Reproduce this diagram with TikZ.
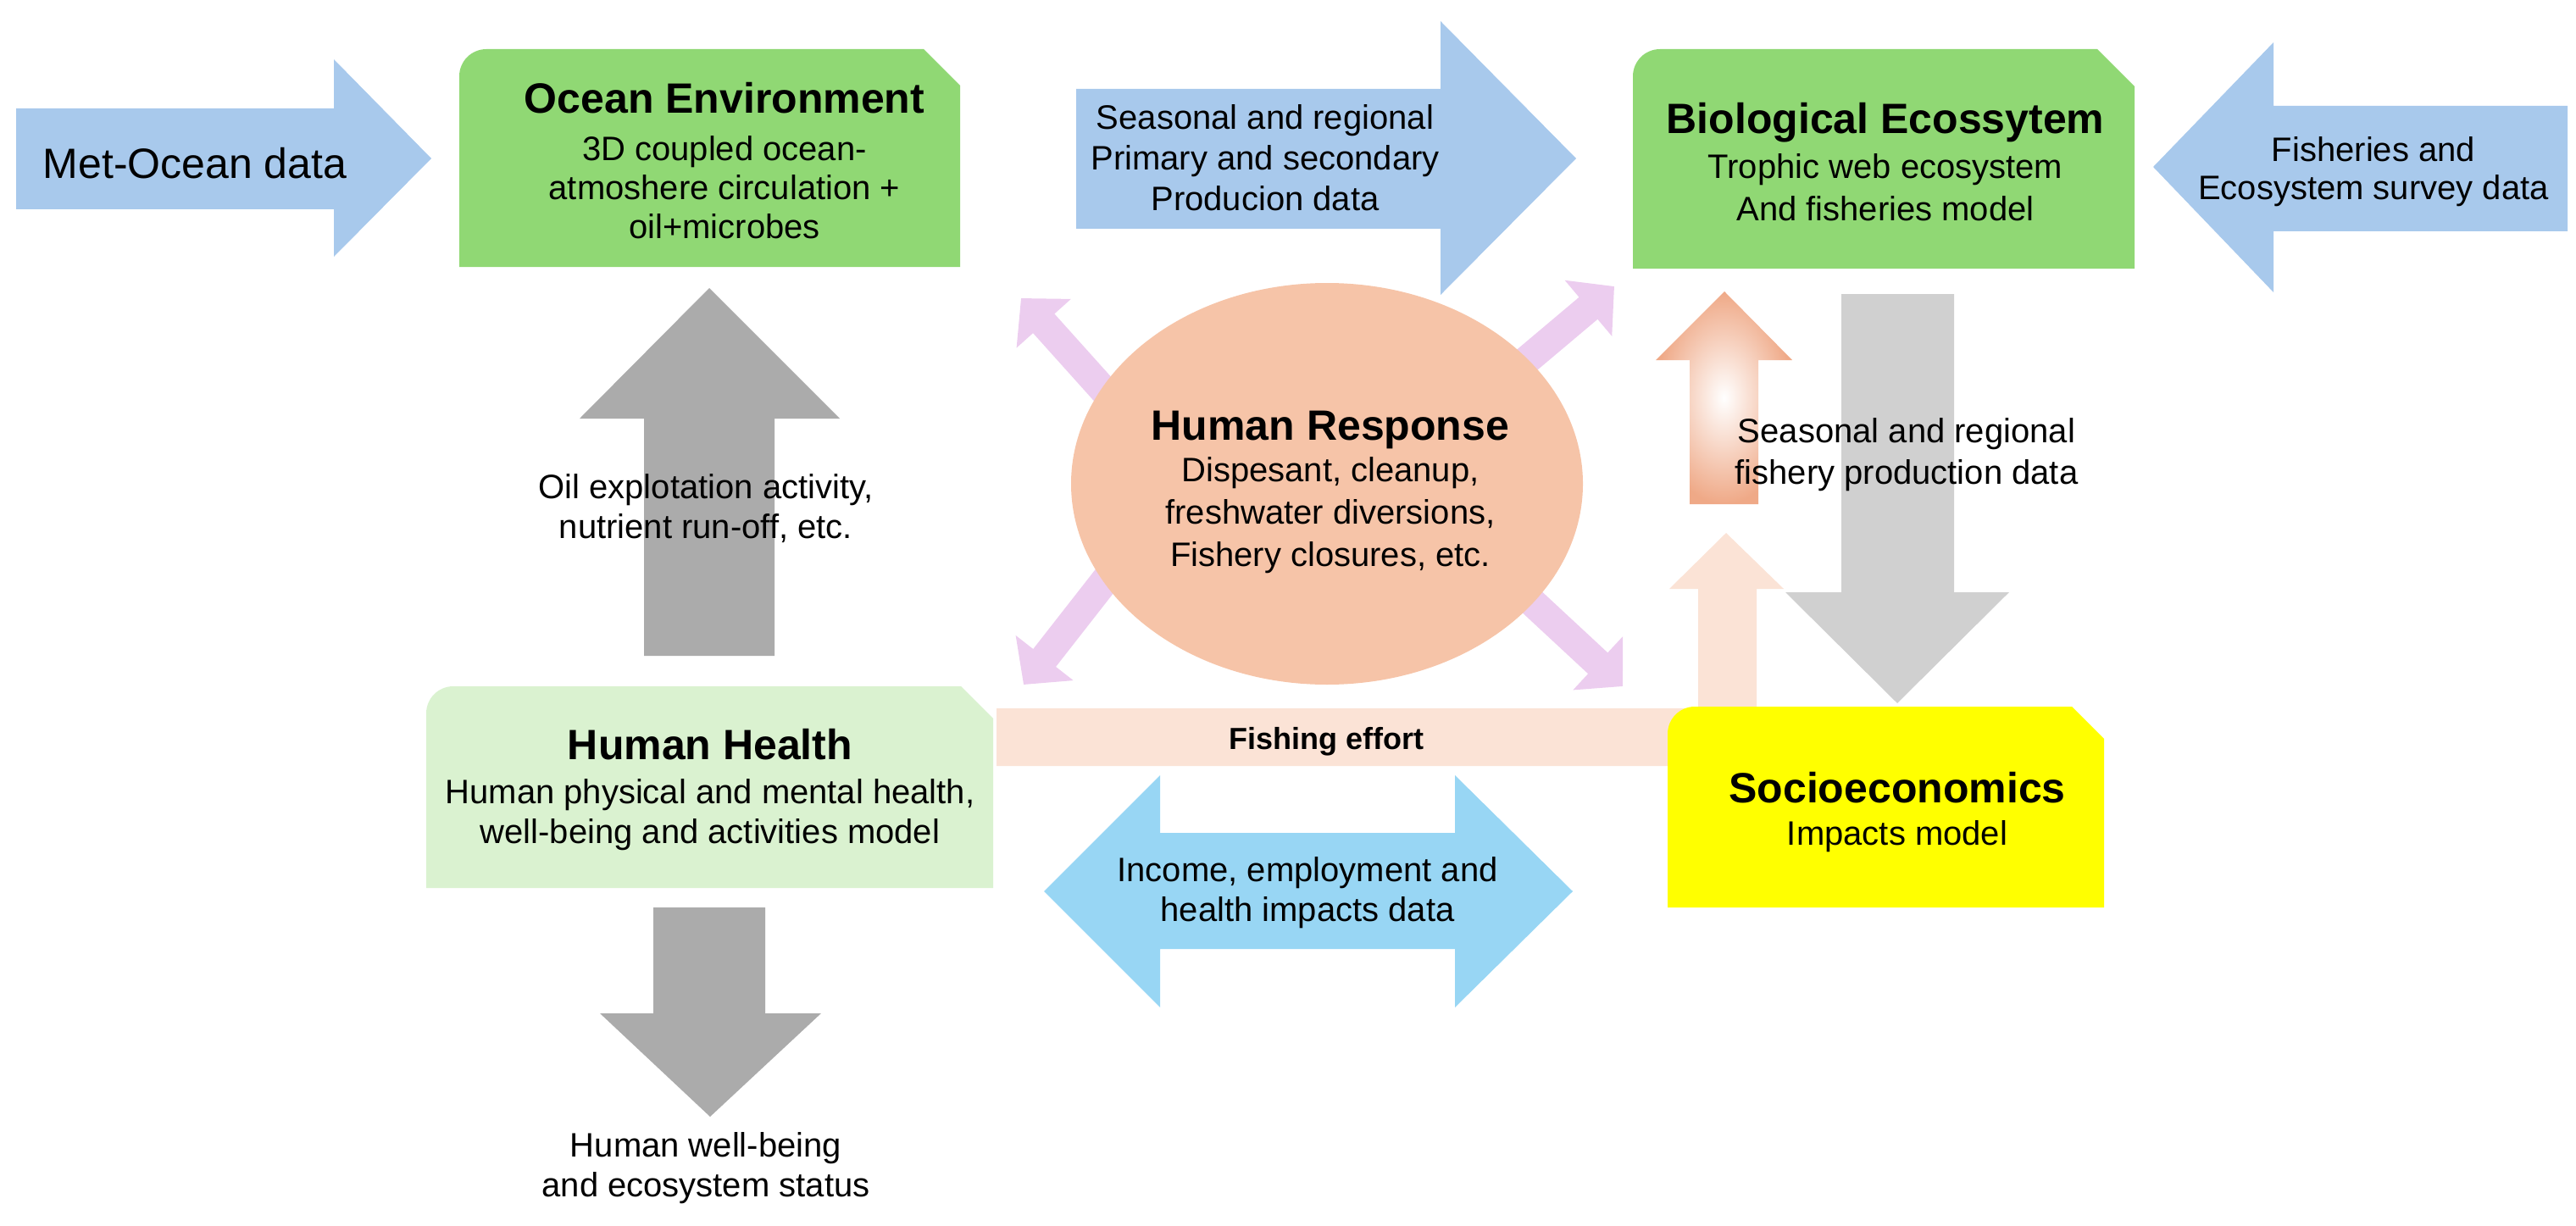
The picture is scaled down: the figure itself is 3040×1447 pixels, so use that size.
\documentclass[tikz,border=0pt]{standalone}
\usepackage{fontspec}
\setmainfont{Liberation Sans}
\usetikzlibrary{arrows.meta}
\definecolor{blueA}{HTML}{A8C9EC}
\definecolor{blueB}{HTML}{98D6F4}
\definecolor{greenA}{HTML}{90D874}
\definecolor{greenB}{HTML}{DAF2D0}
\definecolor{grayA}{HTML}{ABABAB}
\definecolor{grayB}{HTML}{D0D0D0}
\definecolor{peachA}{HTML}{F6C4A8}
\definecolor{peachB}{HTML}{FBE3D6}
\definecolor{peachC}{HTML}{EFA987}
\definecolor{pinkA}{HTML}{ECCDEF}
\definecolor{yellowA}{HTML}{FFFF00}
\newcommand\snipbox[6]{%
  \fill[#1] (#2,{(#3+#5)/2}) [rounded corners=32pt] -- (#2,#3) -- ({#2+80},#3) [sharp corners]
    -- ({#4-#6},#3) -- (#4,{#3+#6}) -- (#4,#5) -- (#2,#5) -- cycle;}
\begin{document}
\begin{tikzpicture}[x=1pt,y=-1pt,
  txt/.style={inner sep=0pt, align=center, text=black, font=\fontsize{40}{48}\selectfont},
  ttl/.style={inner sep=0pt, align=center, text=black, font=\bfseries\fontsize{50}{56}\selectfont},
  pinkarr/.style={draw=pinkA, line width=34pt, -{Triangle[length=40pt,width=84pt]}}]
\useasboundingbox (0,0) rectangle (3040,1447);
% pink arrows behind the ellipse
\coordinate (ulT) at (1372,538); \coordinate (ulP) at (1205,352);
\coordinate (llT) at (1362,611); \coordinate (llP) at (1208,808);
\coordinate (urT) at (1714,499); \coordinate (urP) at (1905,338);
\coordinate (lrT) at (1732,640); \coordinate (lrP) at (1915,810);
\draw[pinkarr] (ulT) -- (ulP);
\draw[pinkarr] (llT) -- (llP);
\draw[pinkarr] (urT) -- (urP);
\draw[pinkarr] (lrT) -- (lrP);
% ellipse
\fill[peachA] (1566,571) ellipse [x radius=302, y radius=237];
% blue input arrows
\fill[blueA] (19,128) -- (394,128) -- (394,70) -- (509,187) -- (394,303) -- (394,247) -- (19,247) -- cycle;
\fill[blueA] (1270,105) -- (1700,105) -- (1700,25) -- (1860,187) -- (1700,348) -- (1700,270) -- (1270,270) -- cycle;
\fill[blueA] (3030,125) -- (2683,125) -- (2683,50) -- (2541,197) -- (2683,345) -- (2683,273) -- (3030,273) -- cycle;
% green boxes
\snipbox{greenA}{542}{58}{1133}{315}{43}
\snipbox{greenA}{1927}{58}{2519}{317}{44}
% gray arrows
\fill[grayA] (760,774) -- (760,494) -- (684,494) -- (837,340) -- (991,494) -- (914,494) -- (914,774) -- cycle;
\snipbox{greenB}{503}{810}{1172}{1048}{38}
\fill[grayA] (771,1071) -- (903,1071) -- (903,1196) -- (969,1196) -- (838,1318) -- (708,1196) -- (771,1196) -- cycle;
% peach up arrow with glow
\shade[inner color=white, outer color=peachC] (1994,595) -- (1994,425) -- (1954,425) -- (2035,344) -- (2115,425) -- (2075,425) -- (2075,595) -- cycle;
% light gray down arrow
\fill[grayB] (2173,347) -- (2306,347) -- (2306,699) -- (2371,699) -- (2239,830) -- (2107,699) -- (2173,699) -- cycle;
% fishing effort bent arrow
\fill[peachB] (1176,836) -- (2004,836) -- (2004,695) -- (1970,695) -- (2037,629) -- (2105,695) -- (2073,695) -- (2073,904) -- (1176,904) -- cycle;
% socioeconomics box
\snipbox{yellowA}{1968}{834}{2483}{1071}{38}
% income double arrow
\fill[blueB] (1232,1052) -- (1369,915) -- (1369,983) -- (1717,983) -- (1717,915) -- (1856,1052) -- (1717,1189) -- (1717,1120) -- (1369,1120) -- (1369,1189) -- cycle;
% texts
\node[txt, font=\fontsize{50}{56}\selectfont] (metocean) at (230,193) {Met-Ocean data};
\node[ttl] (oceanT) at (855,116) {Ocean Environment};
\node[txt, font=\fontsize{40}{46}\selectfont] (oceanB) at (855,221) {3D coupled ocean-\\atmoshere circulation +\\oil+microbes};
\node[txt] (seasonTop) at (1493,186) {Seasonal and regional\\Primary and secondary\\Producion data};
\node[ttl] (bioT) at (2225,145) {Biological Ecossytem};
\node[txt, font=\fontsize{40}{50}\selectfont] (bioB) at (2225,221) {Trophic web ecosystem\\And fisheries model};
\node[txt, font=\fontsize{40}{45}\selectfont] (fisheries) at (2801,203) {Fisheries and\\Ecosystem survey data};
\node[txt, font=\fontsize{40}{47}\selectfont] (oil) at (833,600) {Oil explotation activity,\\nutrient run-off, etc.};
\node[ttl] (hrT) at (1570,507) {Human Response};
\node[txt, font=\fontsize{40}{50}\selectfont] (hrB) at (1570,608) {Dispesant, cleanup,\\freshwater diversions,\\Fishery closures, etc.};
\node[txt, font=\fontsize{40}{49}\selectfont] (fishprod) at (2250,537) {Seasonal and regional\\fishery production data};
\node[ttl] (hhT) at (838,879) {Human Health};
\node[txt, font=\fontsize{40}{47}\selectfont] (hhB) at (838,962) {Human physical and mental health,\\well-being and activities model};
\node[txt, font=\bfseries\fontsize{36}{40}\selectfont] (effort) at (1565,875) {Fishing effort};
\node[ttl] (socT) at (2239,930) {Socioeconomics};
\node[txt] (socB) at (2239,987) {Impacts model};
\node[txt, font=\fontsize{40}{47}\selectfont] (income) at (1543,1054) {Income, employment and\\health impacts data};
\node[txt, font=\fontsize{40}{47}\selectfont] (wellbeing) at (833,1379) {Human well-being\\and ecosystem status};
\end{tikzpicture}
\end{document}
